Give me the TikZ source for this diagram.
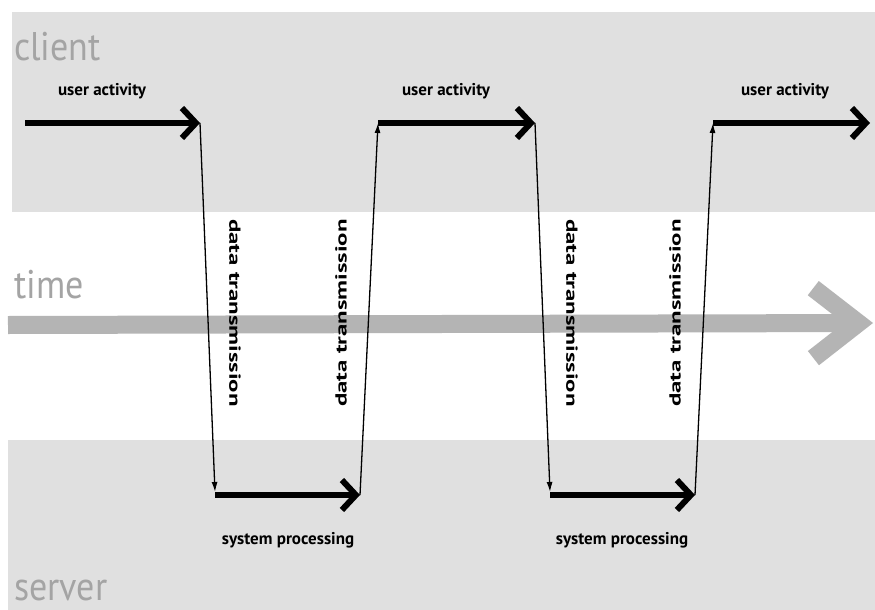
\documentclass[tikz,border=0pt]{standalone}
\usepackage{fontspec}
\setmainfont{PT Sans}
\usetikzlibrary{arrows.meta}
\definecolor{bandgray}{HTML}{E0E0E0}
\definecolor{lanegray}{HTML}{A4A4A4}
\definecolor{timegray}{HTML}{B4B4B4}
\begin{document}
\begin{tikzpicture}[x=1pt,y=-1pt,
  band/.style={fill=bandgray, draw=none},
  lane/.style={text=lanegray, font=\fontsize{40}{40}\selectfont, anchor=base west, inner sep=0},
  act/.style={line width=6pt, -{Straight Barb[length=14pt,width=30pt]}},
  wire/.style={line width=1.3pt, -{Latex[length=10pt,width=6pt]}},
  timearrow/.style={draw=timegray, line width=18pt, -{Straight Barb[length=45pt,width=70pt]}},
  lab/.style={font=\bfseries\fontsize{17}{17}\selectfont, inner sep=0},
  vlab/.style={font=\bfseries\fontsize{16}{16}\selectfont, inner sep=0},
]
\useasboundingbox (0,0) rectangle (875,610);
\fill[white] (0,0) rectangle (875,610);
\fill[band] (12,12) rectangle (875,212);
\fill[band] (8,440) rectangle (875,610);

\node[lane] (client) at (14,60) {\scalebox{0.9}[1]{client}};
\node[lane] (time) at (14,298) {\scalebox{0.9}[1]{time}};
\node[lane] (server) at (14,600) {\scalebox{0.9}[1]{server}};

\coordinate (t0) at (8,325);
\coordinate (t1) at (873,323);
\draw[timearrow] (t0) -- (t1);

\coordinate (a1s) at (25,123);
\coordinate (a1e) at (200,123);
\coordinate (d1e) at (215,492);
\coordinate (p1s) at (215,495);
\coordinate (p1e) at (360,495);
\coordinate (u1e) at (378,123);
\coordinate (a2s) at (378,123);
\coordinate (a2e) at (535,123);
\coordinate (d2e) at (550,492);
\coordinate (p2s) at (550,495);
\coordinate (p2e) at (695,495);
\coordinate (u2e) at (713,123);
\coordinate (a3s) at (713,123);
\coordinate (a3e) at (870,123);

\draw[wire] (a1e) -- (d1e);
\draw[wire] (p1e) -- (u1e);
\draw[wire] (a2e) -- (d2e);
\draw[wire] (p2e) -- (u2e);

\draw[act] (a1s) -- (a1e);
\draw[act] (p1s) -- (p1e);
\draw[act] (a2s) -- (a2e);
\draw[act] (p2s) -- (p2e);
\draw[act] (a3s) -- (a3e);

\node[lab] (ua1) at (102,91) {user activity};
\node[lab] (ua2) at (446,91) {user activity};
\node[lab] (ua3) at (785,91) {user activity};
\node[lab] (sp1) at (288,540) {system processing};
\node[lab] (sp2) at (622,540) {system processing};

\node[vlab, rotate=-90] (dt1) at (235,313) {\scalebox{1.55}[1]{data transmission}};
\node[vlab, rotate=90] (dt2) at (341,313) {\scalebox{1.55}[1]{data transmission}};
\node[vlab, rotate=-90] (dt3) at (572,313) {\scalebox{1.55}[1]{data transmission}};
\node[vlab, rotate=90] (dt4) at (675,313) {\scalebox{1.55}[1]{data transmission}};
\end{tikzpicture}
\end{document}
